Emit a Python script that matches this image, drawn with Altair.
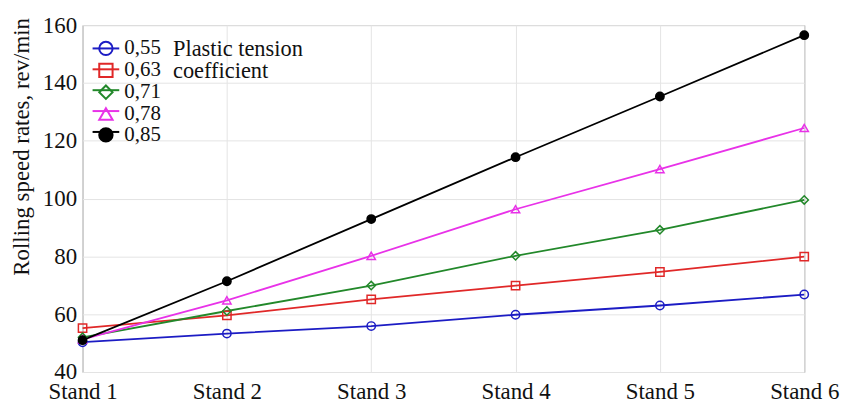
import altair as alt
import pandas as pd

stands = ["Stand 1", "Stand 2", "Stand 3", "Stand 4", "Stand 5", "Stand 6"]
coefs = ["0,55", "0,63", "0,71", "0,78", "0,85"]
v055 = [50.3, 53.3, 55.9, 59.8, 63.0, 66.8]
v063 = [55.2, 59.6, 65.1, 69.9, 74.6, 79.9]
v071 = [52.0, 61.1, 69.9, 80.2, 89.2, 99.5]
v078 = [51.3, 64.8, 80.2, 96.3, 110.2, 124.4]
v085 = [51.0, 71.4, 92.9, 114.3, 135.3, 156.5]
series = [v055, v063, v071, v078, v085]

colors = ["#1c1cc4", "#e02828", "#22882a", "#e832e8", "#000000"]
fills = ["transparent", "transparent", "transparent", "transparent", "black"]
shapes = ["circle", "square", "diamond", "triangle-up", "circle"]

rows = []
for c, vals in zip(coefs, series):
    for s, v in zip(stands, vals):
        rows.append({"stand": s, "coef": c, "line_coef": c, "speed": v})
df = pd.DataFrame(rows)

FONT = "Liberation Serif"
TXT = "#111111"

x = alt.X("stand:N", sort=stands, scale=alt.Scale(type="point", padding=0),
          axis=alt.Axis(title=None, labelAngle=0, labelFontSize=23, labelPadding=9,
                        labelFont=FONT, ticks=False, grid=True, gridColor="#e4e4e4",
                        domain=False, labelColor=TXT))
y = alt.Y("speed:Q", scale=alt.Scale(domain=[40, 160], nice=False, zero=False),
          axis=alt.Axis(title="Rolling speed rates, rev/min",
                        values=[40, 60, 80, 100, 120, 140, 160],
                        labelFontSize=23, labelPadding=6, labelFont=FONT,
                        ticks=False, domain=False,
                        grid=True, gridColor="#e4e4e4", labelColor=TXT,
                        titleFont=FONT, titleFontSize=23, titleFontWeight="normal",
                        titleColor=TXT, titleAngle=270, titleAlign="center",
                        titleBaseline="middle", titleX=-61, titleY=122))

LX, LY = 13, 13

lines = alt.Chart(df).mark_line(strokeWidth=1.8).encode(
    x=x, y=y,
    stroke=alt.Stroke("line_coef:N", sort=coefs, scale=alt.Scale(range=colors),
                      legend=alt.Legend(orient="none", legendX=LX, legendY=LY, padding=0,
                                        title=None, symbolType="M-2,0L2,0",
                                        symbolSize=180, symbolStrokeWidth=2,
                                        labelFontSize=21, labelExpr="''", labelOffset=8,
                                        rowPadding=-2, labelFont=FONT)),
)

pt_legend = dict(orient="none", legendX=LX, legendY=LY, padding=0,
                 title=["Plastic tension", "coefficient"],
                 titleOrient="right", titleAnchor="start",
                 titleFontSize=22.5, titleFontWeight="normal",
                 titleFont=FONT, titleColor=TXT, titlePadding=12,
                 titleLineHeight=22,
                 symbolSize=180, symbolStrokeWidth=2,
                 labelFontSize=21, labelOffset=8, rowPadding=-2,
                 labelFont=FONT, labelColor=TXT)

points = alt.Chart(df).mark_point(filled=False, opacity=1, size=70, strokeWidth=1.5).encode(
    x=x, y=y,
    color=alt.Color("coef:N", sort=coefs, scale=alt.Scale(domain=coefs, range=colors),
                    legend=alt.Legend(**pt_legend)),
    shape=alt.Shape("coef:N", sort=coefs, scale=alt.Scale(domain=coefs, range=shapes),
                    legend=alt.Legend(**pt_legend)),
    fill=alt.Fill("coef:N", sort=coefs, scale=alt.Scale(domain=coefs, range=fills),
                  legend=alt.Legend(**pt_legend)),
)

chart = (alt.layer(lines, points)
         .properties(width=726, height=349,
                     autosize=alt.AutoSizeParams(type="none"),
                     padding={"left": 75, "top": 16, "right": 40, "bottom": 30})
         .configure(font=FONT)
         .configure_view(stroke="#808080", strokeWidth=1)
         .configure_axis(labelFont=FONT, titleFont=FONT)
         .configure_legend(labelFont=FONT, titleFont=FONT))

chart.save("out.html", embed_options={"renderer": "svg", "actions": False})
